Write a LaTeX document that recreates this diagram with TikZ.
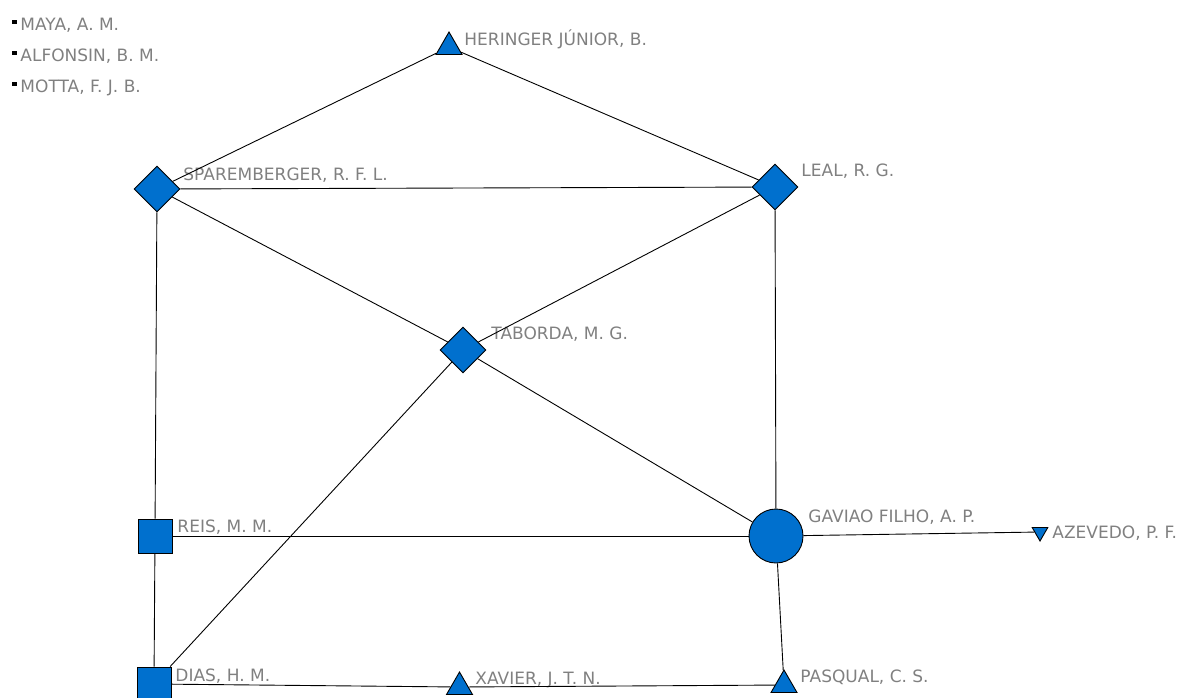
\documentclass[tikz,border=0pt]{standalone}
\usepackage{fontspec}
\setmainfont{DejaVu Sans}
\usetikzlibrary{shapes}

\definecolor{actor}{RGB}{0,112,206}
\definecolor{namegray}{RGB}{128,128,128}

\begin{document}
\begin{tikzpicture}[x=1pt, y=-1pt, line width=0.9pt,
  actornode/.style={draw=black, fill=actor, inner sep=0pt},
  tri/.style={actornode, regular polygon, regular polygon sides=3, minimum size=30},
  itri/.style={tri, shape border rotate=180, minimum size=18},
  dia/.style={actornode, diamond, minimum size=46},
  sq/.style={actornode, rectangle, minimum size=34},
  circ/.style={actornode, circle, minimum size=54},
  dot/.style={fill=black, inner sep=0pt, minimum size=4.5},
  lbl/.style={text=namegray, anchor=base west, inner sep=0pt,
    font=\fontsize{17}{20}\selectfont}]

  \useasboundingbox (0,0) rectangle (1182,697);

  %% isolated names
  \node[dot] (d1) at (14.5,22) {};
  \node[dot] (d2) at (14.5,53) {};
  \node[dot] (d3) at (14.5,84) {};
  \node[lbl] (maya) at (20,30) {MAYA, A. M.};
  \node[lbl] (alfo) at (20,61) {ALFONSIN, B. M.};
  \node[lbl] (mott) at (20,92) {MOTTA, F. J. B.};

  %% actors
  \node[tri]  (her) at (449,47)  {};
  \node[dia]  (spa) at (157,189) {};
  \node[dia]  (lea) at (775,187) {};
  \node[dia]  (tab) at (463,350) {};
  \node[sq]   (rei) at (155,536) {};
  \node[circ] (gav) at (776,536) {};
  \node[itri] (aze) at (1040,532) {};
  \node[sq]   (dia) at (154,684) {};
  \node[tri]  (xav) at (459.5,687) {};
  \node[tri]  (pas) at (784,685) {};

  \node[lbl] (her-l) at (464,45)  {HERINGER JÚNIOR, B.};
  \node[lbl] (spa-l) at (183,180) {SPAREMBERGER, R. F. L.};
  \node[lbl] (lea-l) at (801,176) {LEAL, R. G.};
  \node[lbl] (tab-l) at (491,339) {TABORDA, M. G.};
  \node[lbl] (rei-l) at (177,532) {REIS, M. M.};
  \node[lbl] (gav-l) at (808,522) {GAVIAO FILHO, A. P.};
  \node[lbl] (aze-l) at (1052,538) {AZEVEDO, P. F.};
  \node[lbl] (dia-l) at (175,681) {DIAS, H. M.};
  \node[lbl] (xav-l) at (475,684) {XAVIER, J. T. N.};
  \node[lbl] (pas-l) at (800,682) {PASQUAL, C. S.};

  %% ties
  \draw (her) -- (spa);
  \draw (her) -- (lea);
  \draw (spa) -- (lea);
  \draw (spa) -- (tab);
  \draw (spa) -- (rei);
  \draw (lea) -- (tab);
  \draw (lea) -- (gav);
  \draw (tab) -- (gav);
  \draw (tab) -- (dia);
  \draw (rei) -- (gav);
  \draw (rei) -- (dia);
  \draw (gav) -- (aze);
  \draw (gav) -- (pas);
  \draw (dia) -- (xav);
  \draw (xav) -- (pas);
\end{tikzpicture}
\end{document}
